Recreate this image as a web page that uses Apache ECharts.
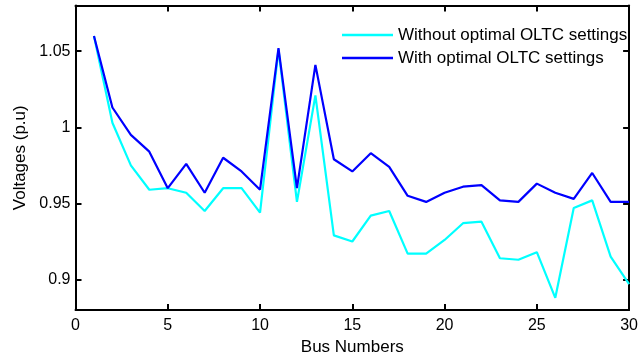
<!DOCTYPE html>
<html><head><meta charset="utf-8">
<script src="https://cdn.jsdelivr.net/npm/echarts@6/dist/echarts.min.js"></script>
<style>html,body{margin:0;padding:0;background:#fff}#c{width:641px;height:361px}</style>
</head><body><div id="c"></div>
<script>
const buses = [1,2,3,4,5,6,7,8,9,10,11,12,13,14,15,16,17,18,19,20,21,22,23,24,25,26,27,28,29,30];
const withoutOLTC = [1.060,1.003,0.975,0.959,0.960,0.957,0.945,0.960,0.960,0.944,1.051,0.951,1.021,0.929,0.925,0.942,0.945,0.917,0.917,0.926,0.937,0.938,0.914,0.913,0.918,0.888,0.947,0.952,0.915,0.897];
const withOLTC = [1.060,1.013,0.995,0.984,0.960,0.976,0.957,0.980,0.971,0.959,1.052,0.960,1.041,0.979,0.971,0.983,0.974,0.955,0.951,0.957,0.961,0.962,0.952,0.951,0.963,0.957,0.953,0.970,0.951,0.951];
const seriesNames = ['Without optimal OLTC settings','With optimal OLTC settings'];
const yTicks = [0.9,0.95,1,1.05];

const font = 'Liberation Sans, Arial, sans-serif';
const chart = echarts.init(document.getElementById('c'), null, {renderer:'canvas'});
const axisLine = {show:true, onZero:false, lineStyle:{color:'#000', width:2}};
const fmtY = v => {
  const hit = yTicks.find(t => Math.abs(t - v) < 1e-6);
  return hit === undefined ? '' : String(hit);
};
chart.setOption({
  animation:false,
  backgroundColor:'#fff',
  grid:{left:75.5, top:5.5, right:9, bottom:47.7, containLabel:false},
  legend:{
    orient:'vertical', left:337, top:21, itemWidth:51, itemHeight:2.5, itemGap:5,
    icon:'rect',
    textStyle:{fontFamily:font, fontSize:17, lineHeight:18, color:'#000', padding:[0,0,0,0]},
    data:seriesNames
  },
  xAxis:[{
    type:'value', min:0, max:30, interval:5, position:'bottom',
    name:'Bus Numbers', nameLocation:'middle', nameGap:29,
    nameTextStyle:{fontFamily:font, fontSize:17, color:'#000'},
    axisLine:axisLine, axisTick:{show:true, inside:true, length:6, lineStyle:{color:'#000', width:2}},
    axisLabel:{fontFamily:font, fontSize:16, color:'#000', margin:8},
    splitLine:{show:false}
  },{
    type:'value', min:0, max:30, interval:5, position:'top',
    axisLine:axisLine, axisTick:{show:true, inside:true, length:6, lineStyle:{color:'#000', width:2}},
    axisLabel:{show:false}, splitLine:{show:false}
  }],
  yAxis:[{
    type:'value', min:0.88, max:1.08, splitNumber:4, position:'left',
    name:'Voltages (p.u)', nameLocation:'middle', nameGap:46,
    nameTextStyle:{fontFamily:font, fontSize:17, color:'#000'},
    axisLine:axisLine, axisTick:{show:true, inside:true, length:6, lineStyle:{color:'#000', width:2}},
    axisLabel:{fontFamily:font, fontSize:16, color:'#000', margin:5, formatter:fmtY, showMinLabel:false, showMaxLabel:false},
    splitLine:{show:false}
  },{
    type:'value', min:0.88, max:1.08, splitNumber:4, position:'right',
    axisLine:axisLine, axisTick:{show:true, inside:true, length:6, lineStyle:{color:'#000', width:2}},
    axisLabel:{show:false}, splitLine:{show:false}
  }],
  series:[{
    name:seriesNames[0], type:'line', symbol:'none', color:'#00FFFF',
    lineStyle:{width:2.2, color:'#00FFFF'},
    data:buses.map((b,i)=>[b, withoutOLTC[i]])
  },{
    name:seriesNames[1], type:'line', symbol:'none', color:'#0000FF',
    lineStyle:{width:2.2, color:'#0000FF'},
    data:buses.map((b,i)=>[b, withOLTC[i]])
  }]
});
</script></body></html>
